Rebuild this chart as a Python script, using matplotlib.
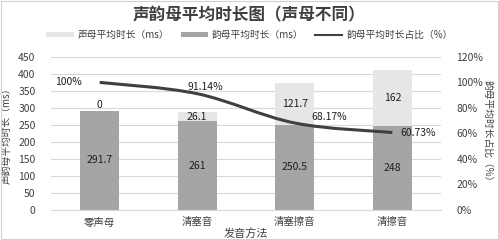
import numpy as np
import matplotlib
matplotlib.use('Agg')
import matplotlib.pyplot as plt
from matplotlib.path import Path
from matplotlib.patches import PathPatch, Rectangle

plt.rcParams['font.family'] = ['Noto Sans CJK SC', 'DejaVu Sans']

categories = ['零声母', '清塞音', '清塞擦音', '清擦音']
final_ms = [291.7, 261, 250.5, 248]
initial_ms = [0, 26.1, 121.7, 162]
final_ratio = [100, 91.14, 68.17, 60.73]

initial_color = '#E7E6E6'
final_color = '#A5A5A5'
line_color = '#404040'

fig = plt.figure(figsize=(4.99, 2.40), dpi=100)
fig.patches.append(Rectangle((0.002, 0.004), 0.995, 0.99, transform=fig.transFigure,
                             fill=False, edgecolor='#D0D0D0', linewidth=0.8))
ax = fig.add_axes([0.102, 0.125, 0.782, 0.638])
ax2 = ax.twinx()

x = np.arange(len(categories))
ax.bar(x, final_ms, width=0.4, color=final_color, zorder=2, label='韵母平均时长（ms）')
ax.bar(x, initial_ms, width=0.4, bottom=final_ms, color=initial_color, zorder=2,
       label='声母平均时长（ms）')

for i in range(len(x)):
    ax.text(x[i], final_ms[i] / 2, str(final_ms[i]), ha='center', va='center', fontsize=7.5, color='#202020')
    if initial_ms[i] == 0:
        ax.text(x[i], final_ms[i] + 2, '0', ha='center', va='bottom', fontsize=7.5, color='#202020')
    else:
        ax.text(x[i], final_ms[i] + initial_ms[i] / 2, str(initial_ms[i]), ha='center', va='center',
                fontsize=7.5, color='#202020')

ax.set_xlim(-0.5, len(x) - 0.5)
ax.set_ylim(0, 450)
ax.set_yticks(np.arange(0, 451, 50))
ax.set_xticks(x)
ax.set_xticklabels(categories, fontsize=7.5, color='#404040')
ax.tick_params(axis='y', labelsize=7.5, colors='#404040', length=0, pad=11)
ax.tick_params(axis='x', length=0, pad=5)
ax.grid(axis='y', color='#D9D9D9', linewidth=0.8, zorder=0)
ax.set_axisbelow(True)
for s in ax.spines.values():
    s.set_visible(False)
for s in ax2.spines.values():
    s.set_visible(False)
ax.spines['bottom'].set_visible(True)
ax.spines['bottom'].set_color('#D9D9D9')

# smooth line through the ratio points (Catmull-Rom as bezier segments)
px = np.array(x, dtype=float)
py = np.array(final_ratio, dtype=float)
verts = [(px[0], py[0])]
codes = [Path.MOVETO]
for i in range(len(px) - 1):
    p0 = (px[i - 1], py[i - 1]) if i > 0 else (px[i], py[i])
    p1 = (px[i], py[i])
    p2 = (px[i + 1], py[i + 1])
    p3 = (px[i + 2], py[i + 2]) if i + 2 < len(px) else p2
    c1 = (p1[0] + (p2[0] - p0[0]) / 6, p1[1] + (p2[1] - p0[1]) / 6)
    c2 = (p2[0] - (p3[0] - p1[0]) / 6, p2[1] - (p3[1] - p1[1]) / 6)
    verts += [c1, c2, p2]
    codes += [Path.CURVE4] * 3
ax2.add_patch(PathPatch(Path(verts, codes), fill=False, edgecolor=line_color, linewidth=2.2, zorder=3))
ax2.plot([], [], color=line_color, linewidth=1.5, label='韵母平均时长占比（%）')

ax2.set_ylim(0, 120)
ax2.set_yticks(np.arange(0, 121, 20))
ax2.set_yticklabels(['%d%%' % v for v in range(0, 121, 20)])
ax2.tick_params(axis='y', labelsize=7.5, colors='#404040', length=0, pad=11)

ax2.text(px[0] - 0.18, py[0], '100%', ha='right', va='center', fontsize=7.5, color='#202020')
ax2.text(px[1] + 0.08, py[1] + 1.5, '91.14%', ha='center', va='bottom', fontsize=7.5, color='#202020')
ax2.text(px[2] + 0.35, py[2] + 1, '68.17%', ha='center', va='bottom', fontsize=7.5, color='#202020')
ax2.text(px[3] + 0.08, py[3], '60.73%', ha='left', va='center', fontsize=7.5, color='#202020')

ax.set_ylabel('声韵母平均时长（ms）', fontsize=7, color='#404040')
ax.yaxis.set_label_coords(-0.1, 0.5)
ax2.set_ylabel('韵母平均时长占比（%）', fontsize=7, color='#404040', rotation=-90, va='center')
ax2.yaxis.set_label_coords(1.12, 0.5)
ax.set_xlabel('发音方法', fontsize=8, color='#404040')
ax.xaxis.set_label_coords(0.5, -0.115)

fig.text(0.5, 0.935, '声韵母平均时长图（声母不同）', ha='center', va='center', fontsize=12,
         fontweight='bold', color='#404040')

h1, l1 = ax.get_legend_handles_labels()
h2, l2 = ax2.get_legend_handles_labels()
handles = [h1[1], h1[0], h2[0]]
labels = [l1[1], l1[0], l2[0]]
fig.legend(handles, labels, loc='center', bbox_to_anchor=(0.5, 0.855), ncol=3, frameon=False,
           fontsize=7, handlelength=2.8, handleheight=0.5, columnspacing=1.2, handletextpad=0.4,
           labelcolor='#404040')

fig.savefig('out.png', dpi=100)
